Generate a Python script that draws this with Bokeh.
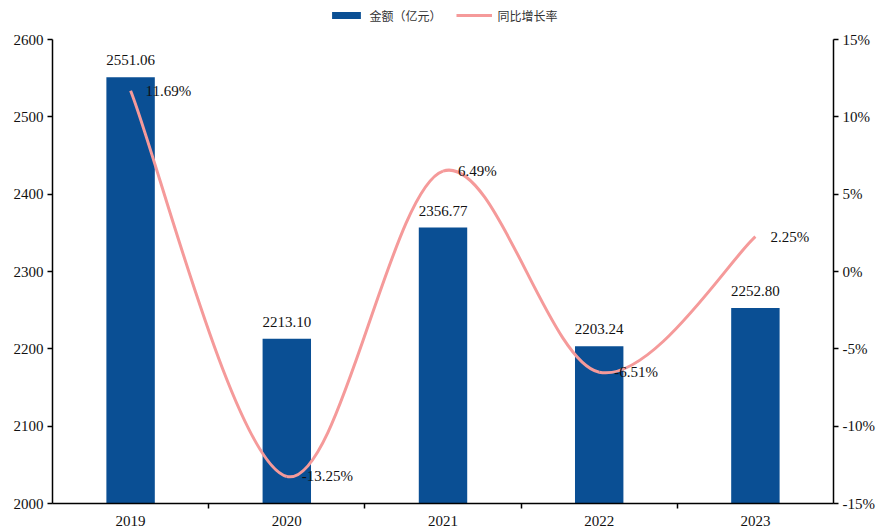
from bokeh.plotting import figure
from bokeh.layouts import column
from bokeh.models import (Range1d, LinearAxis, FixedTicker, Legend, LegendItem,
                          ColumnDataSource, PrintfTickFormatter)
from bokeh.core.properties import value
from bokeh.embed import file_html
from bokeh.resources import INLINE

years = ["2019", "2020", "2021", "2022", "2023"]
amounts = [2551.06, 2213.10, 2356.77, 2203.24, 2252.80]
growth = [11.69, -13.25, 6.49, -6.51, 2.25]
left_ticks = [2000, 2100, 2200, 2300, 2400, 2500, 2600]
right_ticks = [-15, -10, -5, 0, 5, 10, 15]

BAR = "#0a4f94"
LINE = "#f59a9a"
SERIF = "Liberation Serif"
FS = "15px"

xs = list(range(len(years)))

# ---- legend strip ----
lg = figure(width=879, height=30, output_backend="svg", toolbar_location=None,
            x_range=Range1d(0, 1), y_range=Range1d(0, 1),
            min_border=0, min_border_left=0, min_border_right=0,
            min_border_top=0, min_border_bottom=0)
lg.axis.visible = False
lg.grid.visible = False
lg.outline_line_color = None
# legend proxies placed outside the visible range
dbar = lg.vbar(x=[-10], top=[-10], bottom=-11, width=0.1, fill_color=BAR, line_color=None)
dline = lg.line(x=[-10, -9], y=[-10, -10], line_color=LINE, line_width=3)
legend = Legend(items=[LegendItem(label="金额（亿元）", renderers=[dbar]),
                       LegendItem(label="同比增长率", renderers=[dline])],
                orientation="horizontal", location="center",
                label_text_font="Noto Sans CJK SC", label_text_font_size="12px",
                label_text_color="#333333", glyph_width=36, glyph_height=9,
                label_standoff=6, spacing=14, padding=0, margin=0,
                border_line_color=None, background_fill_alpha=0,
                label_height=14)
lg.add_layout(legend, "center")

# ---- main chart ----
p = figure(width=879, height=500, output_backend="svg", toolbar_location=None,
           x_range=Range1d(-0.5, len(years) - 0.5), y_range=Range1d(2000, 2600),
           min_border_left=52, min_border_right=46, min_border_top=9, min_border_bottom=27)
p.outline_line_color = None
p.xgrid.visible = False
p.ygrid.visible = False
p.extra_y_ranges = {"pct": Range1d(-15, 15)}

src = ColumnDataSource(dict(x=xs, top=amounts, lab=[f"{v:.2f}" for v in amounts]))
p.vbar(x="x", top="top", bottom=2000, width=0.31, source=src,
       fill_color=BAR, line_color=None)
p.text(x="x", y="top", text="lab", source=src, text_align="center",
       text_baseline="bottom", y_offset=-12, text_font=value(SERIF),
       text_font_size=FS, text_color="#111111")

# smooth line (cubic bezier through the data points)
n = len(xs)
x0, y0, x1, y1, cx0, cy0, cx1, cy1 = [], [], [], [], [], [], [], []
for i in range(n - 1):
    pm = max(i - 1, 0)
    pp = min(i + 2, n - 1)
    x0.append(xs[i]); y0.append(growth[i])
    x1.append(xs[i + 1]); y1.append(growth[i + 1])
    cx0.append(xs[i] + (xs[i + 1] - xs[pm]) / 6)
    cy0.append(growth[i] + (growth[i + 1] - growth[pm]) / 6)
    cx1.append(xs[i + 1] - (xs[pp] - xs[i]) / 6)
    cy1.append(growth[i + 1] - (growth[pp] - growth[i]) / 6)
p.bezier(x0=x0, y0=y0, x1=x1, y1=y1, cx0=cx0, cy0=cy0, cx1=cx1, cy1=cy1,
         line_color=LINE, line_width=3, y_range_name="pct")
gsrc = ColumnDataSource(dict(x=xs, y=growth, lab=[f"{v:.2f}%" for v in growth]))
p.text(x="x", y="y", text="lab", source=gsrc, y_range_name="pct",
       text_align="left", text_baseline="middle", x_offset=15,
       text_font=value(SERIF), text_font_size=FS, text_color="#111111")

def style(ax):
    ax.axis_line_color = "black"
    ax.axis_line_width = 1.5
    ax.major_tick_line_color = "black"
    ax.major_tick_line_width = 1.5
    ax.major_tick_in = 0
    ax.major_tick_out = 5
    ax.minor_tick_line_color = None
    ax.major_label_text_font = SERIF
    ax.major_label_text_font_size = FS
    ax.major_label_text_color = "#111111"
    ax.major_label_standoff = 4

yax = p.yaxis[0]
style(yax)
yax.ticker = FixedTicker(ticks=left_ticks)

rax = LinearAxis(y_range_name="pct", ticker=FixedTicker(ticks=right_ticks),
                 formatter=PrintfTickFormatter(format="%d%%"))
style(rax)
p.add_layout(rax, "right")

xax = p.xaxis[0]
style(xax)
xax.ticker = FixedTicker(ticks=xs, minor_ticks=[i + 0.5 for i in xs[:-1]])
xax.major_label_overrides = {i: y for i, y in zip(xs, years)}
xax.major_tick_line_color = None
xax.major_tick_out = 0
xax.minor_tick_line_color = "black"
xax.minor_tick_line_width = 1.5
xax.minor_tick_in = 0
xax.minor_tick_out = 5
xax.major_label_standoff = 7

layout = column(lg, p, spacing=0)
open("out.html", "w").write(file_html(layout, INLINE))
